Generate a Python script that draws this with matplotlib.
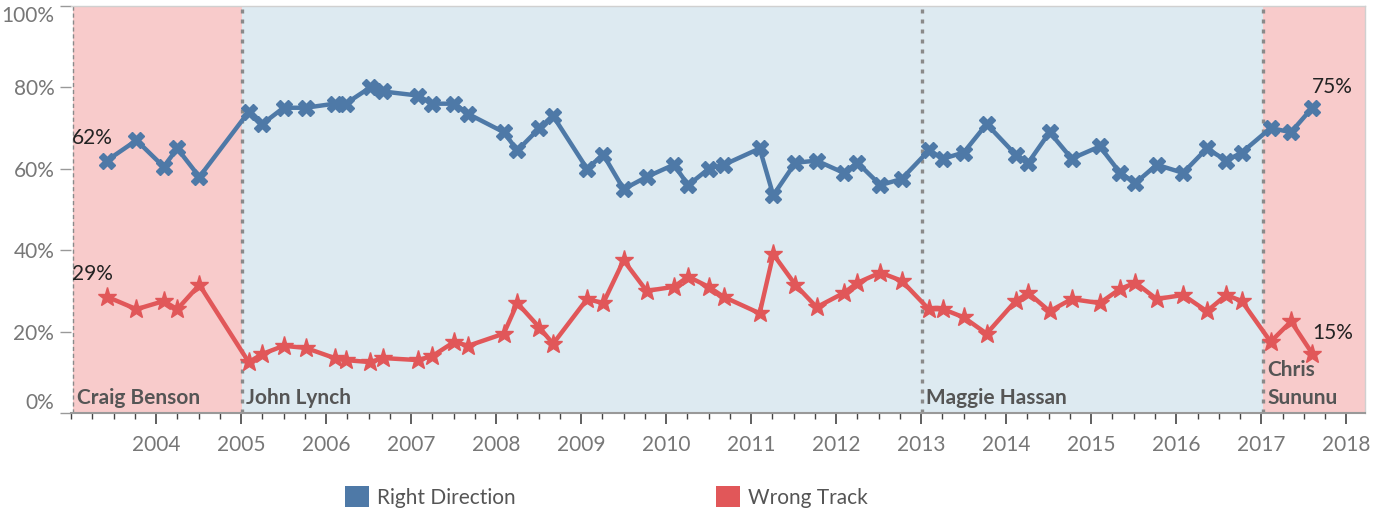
import matplotlib
matplotlib.use('Agg')
import matplotlib.pyplot as plt
from matplotlib.patches import Patch
from matplotlib.ticker import MultipleLocator

plt.rcParams['font.family'] = ['Lato', 'DejaVu Sans']

# poll dates (decimal years) and shares (%)
dates = [2003.42, 2003.77, 2004.09, 2004.25, 2004.51, 2005.09, 2005.25, 2005.50, 2005.76,
         2006.10, 2006.23, 2006.52, 2006.67, 2007.08, 2007.25, 2007.51, 2007.67,
         2008.09, 2008.25, 2008.51, 2008.67, 2009.07, 2009.26, 2009.50, 2009.77,
         2010.09, 2010.26, 2010.50, 2010.68, 2011.10, 2011.26, 2011.52, 2011.77,
         2012.09, 2012.25, 2012.52, 2012.77, 2013.09, 2013.26, 2013.50, 2013.77,
         2014.11, 2014.26, 2014.51, 2014.77, 2015.10, 2015.34, 2015.52, 2015.77,
         2016.08, 2016.36, 2016.59, 2016.77, 2017.11, 2017.35, 2017.60]
right_direction = [62, 67, 60.5, 65, 58, 74, 71, 75, 75,
                   76, 76, 80, 79, 78, 76, 76, 73.5,
                   69, 64.5, 70, 73, 60, 63.5, 55, 58,
                   61, 56, 60, 61, 65, 53.5, 61.5, 62,
                   59, 61.5, 56, 57.5, 64.5, 62.5, 64, 71,
                   63.5, 61.5, 69, 62.5, 65.5, 59, 56.5, 61,
                   59, 65, 62, 64, 70, 69, 75]
wrong_track = [28.6, 25.5, 27.5, 25.5, 31.5, 12.5, 14.5, 16.5, 16,
               13.5, 13, 12.5, 13.5, 13, 14, 17.5, 16.5,
               19.5, 27, 21, 17, 28, 27, 37.5, 30,
               31, 33.5, 31, 28.5, 24.5, 39, 31.5, 26,
               29.5, 32, 34.5, 32.5, 25.5, 25.5, 23.5, 19.5,
               27.5, 29.5, 25, 28, 27, 30.5, 32, 28,
               29, 25, 29, 27.5, 17.5, 22.5, 14.6]

governors = ['Craig Benson', 'John Lynch', 'Maggie Hassan', 'Chris\nSununu']
term_starts = [2003.02, 2005.01, 2013.01, 2017.02]
x_start, x_end = 2003.0, 2018.22
band_colors = ['#F8CBCB', '#DDEAF1', '#DDEAF1', '#F8CBCB']

BLUE = '#4E79A7'
RED = '#E15759'
FS = 15

fig = plt.figure(figsize=(13.77, 5.14), dpi=100)
ax = fig.add_axes([71 / 1377, 1 - 413 / 514, (1365 - 71) / 1377, (413 - 6) / 514])

# governor terms as shaded bands
ends = term_starts[1:] + [x_end]
for i, (s, e) in enumerate(zip(term_starts, ends)):
    ax.axvspan(s, e, color=band_colors[i], lw=0, zorder=0)
    if i == 0:
        ax.axvline(s, color='#8a8a8a', lw=1.0, ls=(0, (3, 2)), zorder=1)
    else:
        ax.axvline(s, color='#8a8a8a', lw=2.4, ls=(0, (1.2, 1.8)), zorder=1)
    lines = governors[i].split('\n')
    for j, line in enumerate(lines):
        y = 3.6 + 6.9 * (len(lines) - 1 - j)
        ax.text(s + 0.05, y, line, ha='left', va='center', fontsize=FS,
                fontweight='bold', color='#555555', zorder=4)

ax.plot(dates, right_direction, color=BLUE, lw=3.2, marker='X', ms=12,
        zorder=3, solid_joinstyle='round')
ax.plot(dates, wrong_track, color=RED, lw=3.2, marker='*', ms=14,
        zorder=3, solid_joinstyle='round')

# start / end labels
for series in (right_direction, wrong_track):
    ax.annotate(f'{series[0]:.0f}%', (dates[0], series[0]), xytext=(-14, 23),
                textcoords='offset pixels', ha='center', va='center',
                fontsize=FS, color='#222222')
    ax.annotate(f'{series[-1]:.0f}%', (dates[-1], series[-1]), xytext=(20, 21),
                textcoords='offset pixels', ha='center', va='center',
                fontsize=FS, color='#222222')

ax.set_xlim(x_start, x_end)
ax.set_ylim(0, 100)

ax.set_yticks(range(0, 101, 20))
ax.set_yticklabels([f'{v}%' for v in range(0, 101, 20)])
ax.set_xticks(range(2004, 2019))
ax.set_xticklabels([str(y) for y in range(2004, 2019)])
ax.xaxis.set_minor_locator(MultipleLocator(0.25))

ax.tick_params(axis='y', length=8, width=1, color='#999999', labelcolor='#777777',
               labelsize=FS, pad=4)
ax.tick_params(axis='x', which='major', length=8, width=1.2, color='#444444',
               labelcolor='#777777', labelsize=FS, pad=8)
ax.tick_params(axis='x', which='minor', length=4, width=1, color='#444444')

yt = ax.yaxis.get_major_ticks()
yt[0].label1.set_verticalalignment('bottom')
yt[-1].label1.set_verticalalignment('top')

ax.spines['left'].set_visible(False)
ax.spines['bottom'].set_color('#999999')
ax.spines['bottom'].set_linewidth(1.5)
for s in ('top', 'right'):
    ax.spines[s].set_color('#d0d0d0')
    ax.spines[s].set_linewidth(1)

handles = [Patch(facecolor=BLUE, edgecolor='none', label='Right Direction'),
           Patch(facecolor=RED, edgecolor='none', label='Wrong Track')]
fig.legend(handles=handles, loc='center left', bbox_to_anchor=(345 / 1377, 1 - 497 / 514),
           ncol=2, frameon=False, fontsize=FS, labelcolor='#555555',
           handlelength=1.15, handleheight=1.15, handletextpad=0.4,
           columnspacing=9.6, borderpad=0, borderaxespad=0)

fig.savefig('out.png', dpi=100)
